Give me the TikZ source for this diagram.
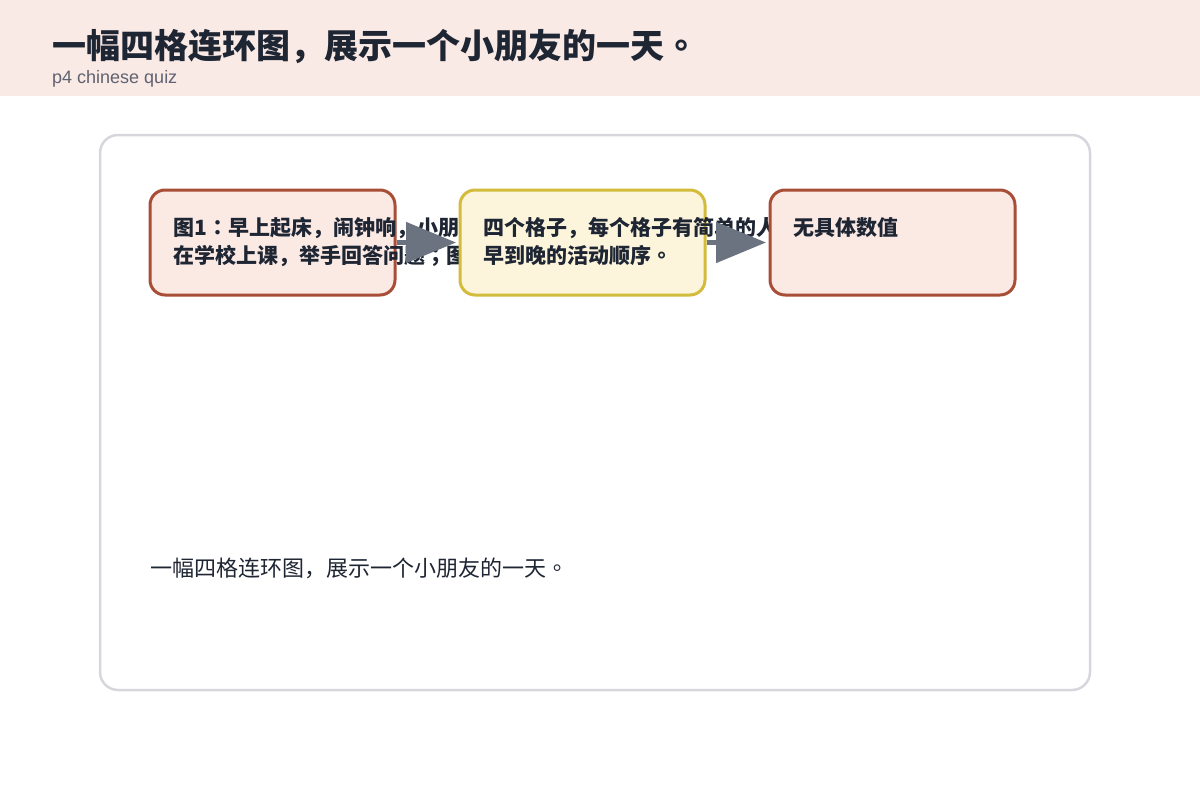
\documentclass[tikz,border=0pt]{standalone}
\usepackage{fontspec}
\setmainfont{Liberation Sans}
\newfontfamily\cjk{Noto Sans CJK SC}
\newfontfamily\cjkmid{Noto Sans CJK TC}
\newcommand\zhstop{{\cjkmid 。}}
\newcommand\zhcolon{{\cjkmid ：}}
\newcommand\zhsemi{{\cjkmid ；}}
\usetikzlibrary{arrows.meta}
\definecolor{headbg}{HTML}{FAEAE6}
\definecolor{ink}{HTML}{1E2533}
\definecolor{subink}{HTML}{5F6270}
\definecolor{framegray}{HTML}{D6D6DC}
\definecolor{rustfill}{HTML}{FBE9E4}
\definecolor{rustline}{HTML}{A84D36}
\definecolor{sandfill}{HTML}{FCF5DC}
\definecolor{sandline}{HTML}{D3BB3C}
\definecolor{arrowgray}{HTML}{6B7280}

\begin{document}
\begin{tikzpicture}[x=1pt, y=-1pt,
  panel/.style = {shape=rectangle, rounded corners=15pt, line width=3pt,
    minimum width=245pt, minimum height=105pt, inner sep=0pt},
  rust/.style = {panel, draw=rustline, fill=rustfill},
  sand/.style = {panel, draw=sandline, fill=sandfill},
  caption/.style = {anchor=base west, align=left, inner sep=0pt, text=ink,
    font=\cjk\bfseries\fontsize{21}{28}\selectfont},
  flow/.style = {draw=arrowgray, line width=5pt, shorten >=4pt,
    -{Triangle[length=50pt, width=40pt]}}]
  \useasboundingbox (0,0) rectangle (1200,800);
  \fill[headbg] (0,0) rectangle (1200,96);
  \node[anchor=base west, inner sep=0pt, text=ink,
    font=\cjk\bfseries\fontsize{34}{38}\selectfont] (title) at (52,59)
    {一幅四格连环图，展示一个小朋友的一天\zhstop};
  \node[anchor=base west, inner sep=0pt, text=subink,
    font=\fontsize{18}{22}\selectfont] (subtitle) at (52,84) {p4 chinese quiz};
  \node[draw=framegray, line width=2.5pt, rounded corners=18pt,
    minimum width=990pt, minimum height=555pt] (frame) at (595,412.5) {};

  \node[rust] (p1) at (272.5,242.5) {};
  \node[caption] (t1) at ([shift={(25,20.5)}]p1.west)
    {图1\zhcolon 早上起床，闹钟响，小朋\\在学校上课，举手回答问题\zhsemi 图};
  \draw[flow] (p1.east) -- (460,242.5) coordinate (e1);
  \node[sand] (p2) at (582.5,242.5) {};
  \node[caption] (t2) at ([shift={(25,20.5)}]p2.west)
    {四个格子，每个格子有简单的人\\早到晚的活动顺序\zhstop};
  \draw[flow] (p2.east) -- (770,242.5) coordinate (e2);
  \node[rust] (p3) at (892.5,242.5) {};
  \node[caption] (t3) at ([shift={(25,-7.5)}]p3.west) {无具体数值};

  \node[anchor=base west, inner sep=0pt, text=ink,
    font=\cjk\fontsize{22}{26}\selectfont] (summary) at (150,576)
    {一幅四格连环图，展示一个小朋友的一天\zhstop};
\end{tikzpicture}
\end{document}
